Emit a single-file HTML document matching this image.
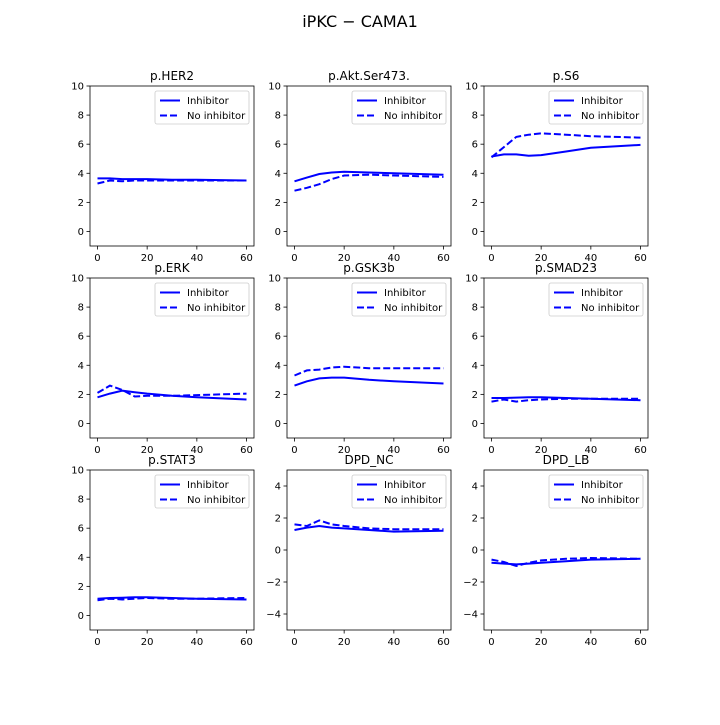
<!DOCTYPE html>
<html><head><meta charset="utf-8"><style>
body{margin:0;background:#fff;}
svg{font-family:"DejaVu Sans","Liberation Sans",sans-serif;}
</style></head><body>
<svg id="c" width="720" height="720" xmlns="http://www.w3.org/2000/svg">
<rect width="720" height="720" fill="#fff"/>
<text x="360" y="27" text-anchor="middle" font-size="16">iPKC − CAMA1</text>
</svg>
<script>
const times = [0,5,10,15,20,30,40,60];
const panelNames = ["p.HER2","p.Akt.Ser473.","p.S6","p.ERK","p.GSK3b","p.SMAD23","p.STAT3","DPD_NC","DPD_LB"];
const inhibitorValues = [
 [3.65,3.65,3.6,3.6,3.6,3.55,3.55,3.5],
 [3.45,3.7,3.95,4.05,4.1,4.05,4.0,3.9],
 [5.15,5.3,5.3,5.2,5.25,5.5,5.75,5.95],
 [1.8,2.05,2.25,2.15,2.05,1.9,1.8,1.65],
 [2.6,2.9,3.1,3.15,3.15,3.0,2.9,2.75],
 [1.75,1.75,1.78,1.8,1.8,1.75,1.7,1.6],
 [1.15,1.2,1.22,1.25,1.25,1.2,1.15,1.1],
 [1.25,1.4,1.5,1.4,1.35,1.25,1.15,1.2],
 [-0.8,-0.85,-0.9,-0.85,-0.8,-0.7,-0.6,-0.55]
];
const noInhibitorValues = [
 [3.3,3.5,3.45,3.5,3.5,3.5,3.5,3.5],
 [2.8,3.0,3.25,3.6,3.85,3.9,3.85,3.75],
 [5.1,5.8,6.5,6.65,6.75,6.65,6.55,6.45],
 [2.1,2.6,2.3,1.85,1.9,1.9,1.95,2.05],
 [3.3,3.65,3.7,3.85,3.9,3.8,3.8,3.8],
 [1.5,1.65,1.5,1.6,1.65,1.7,1.7,1.7],
 [1.05,1.15,1.1,1.15,1.2,1.15,1.15,1.2],
 [1.6,1.5,1.85,1.6,1.5,1.35,1.3,1.3],
 [-0.6,-0.75,-1.0,-0.8,-0.65,-0.55,-0.5,-0.55]
];
const xTicks = [0,20,40,60];
const yTicksA = [0,2,4,6,8,10];
const yTicksB = [-4,-2,0,2,4];

const svg = document.getElementById('c');
const NS = "http://www.w3.org/2000/svg";
function mk(tag, attrs, parent){
  const e = document.createElementNS(NS, tag);
  for (const k in attrs) e.setAttribute(k, attrs[k]);
  (parent||svg).appendChild(e);
  return e;
}
const colX = [90,287,484], rowY = [86,278,470], W = 164, H = 160;
for (let p = 0; p < 9; p++){
  const r = Math.floor(p/3), c = p%3;
  const x0 = colX[c], y0 = rowY[r];
  const alt = (p >= 7);
  const ymin = alt ? -5 : -1, ymax = alt ? 5 : 10;
  const xmin = -3, xmax = 63;
  const sx = v => x0 + (v - xmin)/(xmax - xmin)*W;
  const sy = v => y0 + H - (v - ymin)/(ymax - ymin)*H;
  const g = mk('g', {});
  
  
  const t = mk('text', {x: x0 + W/2, y: y0 - 6, 'text-anchor':'middle', 'font-size':12}, g);
  t.textContent = panelNames[p];
  
  
  xTicks.forEach(v => {
    const X = sx(v);
    mk('line', {x1:X, x2:X, y1:y0+H, y2:y0+H+3.5, stroke:'#000', 'stroke-width':0.8}, g);
    const tt = mk('text', {x:X, y:y0+H+15, 'text-anchor':'middle', 'font-size':10}, g);
    tt.textContent = v;
    
    
  });
  (alt ? yTicksB : yTicksA).forEach(v => {
    const Y = sy(v);
    mk('line', {x1:x0-3.5, x2:x0, y1:Y, y2:Y, stroke:'#000', 'stroke-width':0.8}, g);
    const tt = mk('text', {x:x0-6, y:Y+3.5, 'text-anchor':'end', 'font-size':10}, g);
    tt.textContent = v < 0 ? '−' + Math.abs(v) : v;
    
    
  });
  const pts = arr => arr.map((v,i) => sx(times[i]).toFixed(1) + ',' + sy(v).toFixed(1)).join(' ');
  const l1 = mk('polyline', {points: pts(inhibitorValues[p]), fill:'none', stroke:'#0000ff', 'stroke-width':2}, g);
  
  
  const l2 = mk('polyline', {points: pts(noInhibitorValues[p]), fill:'none', stroke:'#0000ff', 'stroke-width':2, 'stroke-dasharray':'7,3'}, g);
  
  
  mk('rect', {x:x0, y:y0, width:W, height:H, fill:'none', stroke:'#000', 'stroke-width':0.8}, g);
  const lg = mk('g', {}, g);
  
  
  const lx = x0 + W - 99, ly = y0 + 5;
  mk('rect', {x:lx, y:ly, width:94, height:33, rx:2, fill:'#fff', stroke:'#ccc', 'stroke-width':0.8}, lg);
  mk('line', {x1:lx+5, x2:lx+25, y1:ly+9.5, y2:ly+9.5, stroke:'#0000ff', 'stroke-width':2}, lg);
  mk('line', {x1:lx+5, x2:lx+25, y1:ly+24.5, y2:ly+24.5, stroke:'#0000ff', 'stroke-width':2, 'stroke-dasharray':'7,3'}, lg);
  const e1 = mk('text', {x:lx+32, y:ly+13, 'font-size':10}, lg);
  e1.textContent = 'Inhibitor';
  
  
  const e2 = mk('text', {x:lx+32, y:ly+28, 'font-size':10}, lg);
  e2.textContent = 'No inhibitor';
  
  
}
</script>
</body></html>
